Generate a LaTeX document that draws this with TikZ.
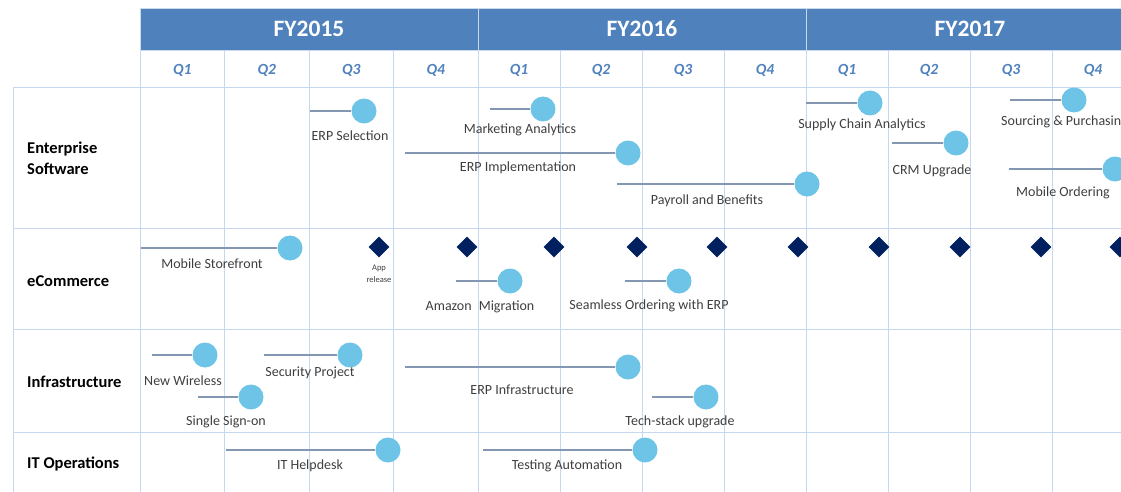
\documentclass[tikz,border=0pt]{standalone}
\usepackage{fontspec}
\setmainfont{Carlito}
\usepackage{tikz}
\usetikzlibrary{shapes.geometric}
\definecolor{hdrblue}{HTML}{4F81BD}
\definecolor{gridblue}{HTML}{C6D8F0}
\definecolor{msblue}{HTML}{6EC4E6}
\definecolor{barslate}{HTML}{8497B0}
\definecolor{navy}{HTML}{002060}
\definecolor{lblgray}{HTML}{3F3F3F}
\tikzset{
yearbox/.style={
  rectangle,
  fill=hdrblue,
  draw=white!70!hdrblue,
  line width=.8pt,
  minimum height=42pt,
  inner sep=0pt,
  text=white,
  font=\fontsize{23.5}{23.5}\selectfont\bfseries
},
qlabel/.style={text=hdrblue,font=\fontsize{15.5}{15.5}\selectfont\bfseries\itshape},
rowlabel/.style={anchor=west,align=left,inner sep=0pt,font=\fontsize{16.5}{21}\selectfont\bfseries},
gridline/.style={draw=gridblue,line width=1pt},
ms/.style={circle,fill=msblue,minimum size=25pt,inner sep=0pt},
msbar/.style={draw=barslate,line width=1.8pt},
mslabel/.style={text=lblgray,inner sep=0pt,font=\fontsize{14}{14}\selectfont},
release/.style={diamond,fill=navy,minimum size=21pt,inner sep=0pt},
%relnote/.style={text=lblgray,align=center},
}
\begin{document}
\begin{tikzpicture}[x=1pt,y=-1pt]
\useasboundingbox (0,0) rectangle (1121,492);
\clip (0,0) rectangle (1121,492);
% the grid rules
\foreach \x in {140,224.5,309,393.5,478,560,642,724,806,888,970,1052}
{
  \draw[gridline] (\x,50) -- (\x,492);
}
\draw[gridline] (13,88) -- (13,492);
\foreach \y in {88,228,329,432}
{
  \draw[gridline] (13,\y) -- (1121,\y);
}
% the years
\node[yearbox,minimum width=338pt] (fy15) at (309,29) {FY2015};
\node[yearbox,minimum width=328pt] (fy16) at (642,29) {FY2016};
\node[yearbox,minimum width=328pt] (fy17) at (970,29) {FY2017};
% the quarters
\foreach \x/\q [count=\i] in {182.25/1,266.75/2,351.25/3,435.75/4,519/1,601/2,683/3,765/4,847/1,929/2,1011/3,1093/4}
{
  \node[qlabel] (q\i) at (\x,70) {Q\q};
}
% the rows
\node[rowlabel] (ent) at (27,158) {Enterprise\\Software};
\node[rowlabel] (ecom) at (27,281) {eCommerce};
\node[rowlabel] (infra) at (27,382) {Infrastructure};
\node[rowlabel] (itops) at (27,464) {IT Operations};
% the releases
\foreach \x [count=\i] in {379,467,554,637,717,798,879,960,1041,1120}
{
  \node[release] (rel\i) at (\x,247) {};
}
\node[text=lblgray,align=center,inner sep=0pt,font=\fontsize{8.5}{12}\selectfont] (app) at (379,274) {App\\release};
% the milestones
\coordinate (erpsel-s) at (310,111);
\node[ms] (erpsel) at (364,111) {};
\draw[msbar] (erpsel-s) -- (erpsel);
\node[mslabel] (erpsel-t) at (350,136) {ERP Selection};
\coordinate (mktan-s) at (490,109);
\node[ms] (mktan) at (543,109) {};
\draw[msbar] (mktan-s) -- (mktan);
\node[mslabel] (mktan-t) at (520,130) {Marketing Analytics};
\coordinate (erpimp-s) at (405,153);
\node[ms] (erpimp) at (628,153) {};
\draw[msbar] (erpimp-s) -- (erpimp);
\node[mslabel] (erpimp-t) at (518,168) {ERP Implementation};
\coordinate (payroll-s) at (617,184);
\node[ms] (payroll) at (807,184) {};
\draw[msbar] (payroll-s) -- (payroll);
\node[mslabel] (payroll-t) at (707,201) {Payroll and Benefits};
\coordinate (supply-s) at (806,103);
\node[ms] (supply) at (870,103) {};
\draw[msbar] (supply-s) -- (supply);
\node[mslabel] (supply-t) at (862,125) {Supply Chain Analytics};
\coordinate (crm-s) at (892,143);
\node[ms] (crm) at (956,143) {};
\draw[msbar] (crm-s) -- (crm);
\node[mslabel] (crm-t) at (932,171) {CRM Upgrade};
\coordinate (sourcing-s) at (1010,100);
\node[ms] (sourcing) at (1074,100) {};
\draw[msbar] (sourcing-s) -- (sourcing);
\node[mslabel,anchor=west] (sourcing-t) at (1001,122) {Sourcing \& Purchasing};
\coordinate (mobord-s) at (1009,169);
\node[ms] (mobord) at (1115,169) {};
\draw[msbar] (mobord-s) -- (mobord);
\node[mslabel] (mobord-t) at (1063,193) {Mobile Ordering};

\coordinate (mobstore-s) at (141,248);
\node[ms] (mobstore) at (290,248) {};
\draw[msbar] (mobstore-s) -- (mobstore);
\node[mslabel] (mobstore-t) at (212,264) {Mobile Storefront};
\coordinate (amazon-s) at (456,281);
\node[ms] (amazon) at (510,281) {};
\draw[msbar] (amazon-s) -- (amazon);
\node[mslabel] (amazon-t) at (480,307) {Amazon\hspace{4pt} Migration};
\coordinate (seamless-s) at (625,281);
\node[ms] (seamless) at (679,281) {};
\draw[msbar] (seamless-s) -- (seamless);
\node[mslabel] (seamless-t) at (649,306) {Seamless Ordering with ERP};

\coordinate (wireless-s) at (152,355);
\node[ms] (wireless) at (205,355) {};
\draw[msbar] (wireless-s) -- (wireless);
\node[mslabel] (wireless-t) at (183,381) {New Wireless};
\coordinate (security-s) at (264,355);
\node[ms] (security) at (350,355) {};
\draw[msbar] (security-s) -- (security);
\node[mslabel] (security-t) at (310,373) {Security Project};
\coordinate (sso-s) at (198,397);
\node[ms] (sso) at (251,397) {};
\draw[msbar] (sso-s) -- (sso);
\node[mslabel] (sso-t) at (226,422) {Single Sign-on};
\coordinate (erpinf-s) at (405,367);
\node[ms] (erpinf) at (628,367) {};
\draw[msbar] (erpinf-s) -- (erpinf);
\node[mslabel] (erpinf-t) at (522,390) {ERP Infrastructure};
\coordinate (techstack-s) at (652,397);
\node[ms] (techstack) at (706,397) {};
\draw[msbar] (techstack-s) -- (techstack);
\node[mslabel] (techstack-t) at (680,422) {Tech-stack upgrade};

\coordinate (helpdesk-s) at (226,450);
\node[ms] (helpdesk) at (388,450) {};
\draw[msbar] (helpdesk-s) -- (helpdesk);
\node[mslabel] (helpdesk-t) at (310,466) {IT Helpdesk};
\coordinate (testing-s) at (483,450);
\node[ms] (testing) at (645,450) {};
\draw[msbar] (testing-s) -- (testing);
\node[mslabel] (testing-t) at (567,466) {Testing Automation};
\end{tikzpicture}
\end{document}
